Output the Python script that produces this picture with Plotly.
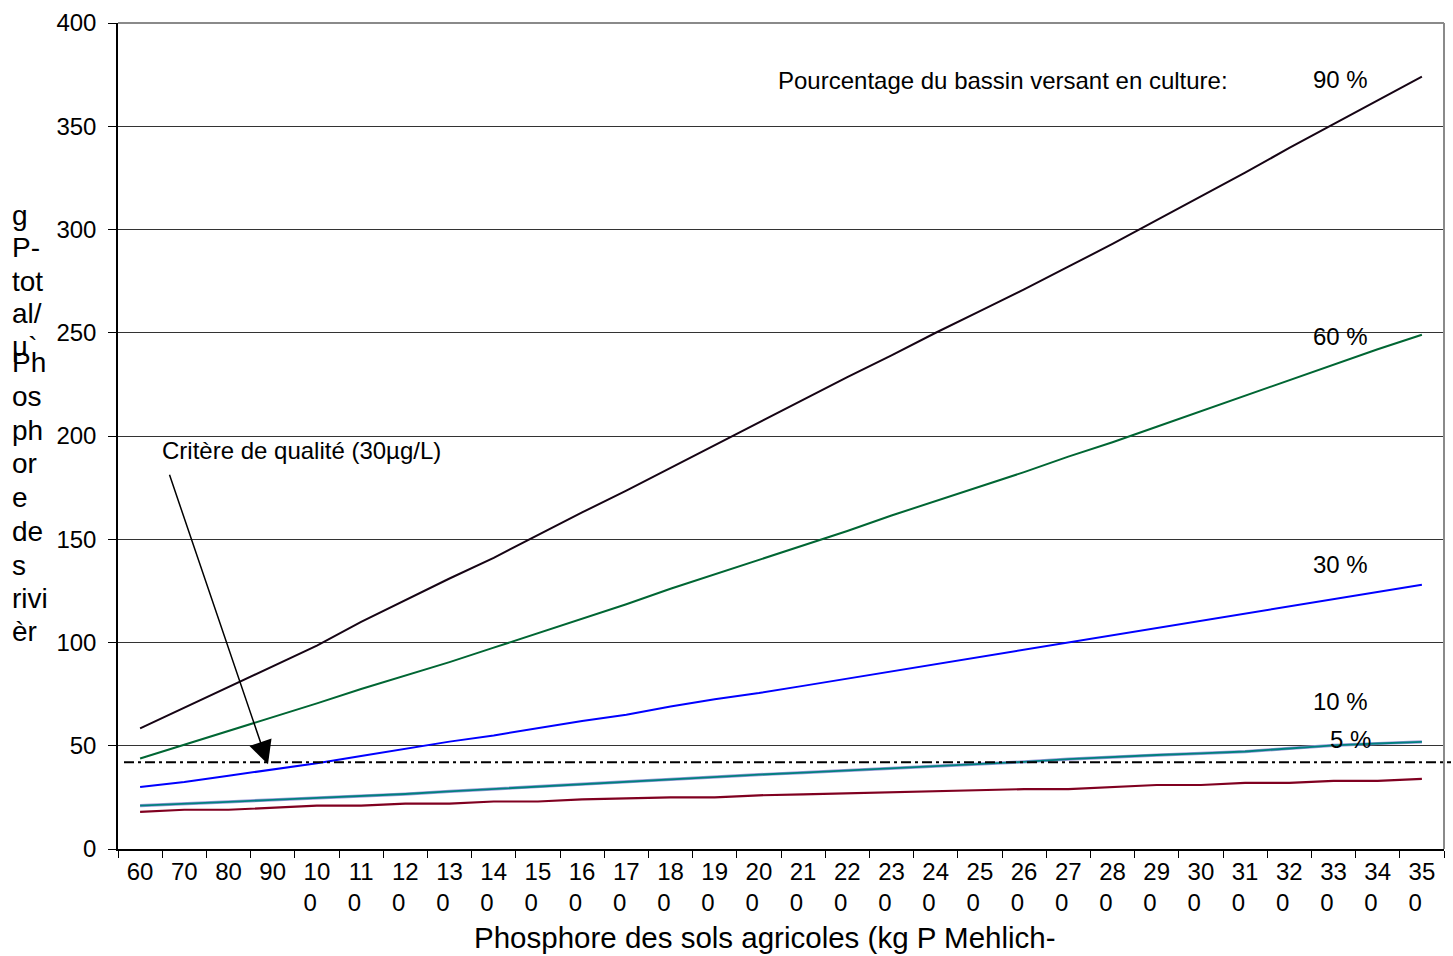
import plotly.graph_objects as go

# Phosphore des sols agricoles (catégories de l'axe X)
phosphore_sol = ["60", "70", "80", "90", "100", "110", "120", "130", "140", "150",
                 "160", "170", "180", "190", "200", "210", "220", "230", "240", "250",
                 "260", "270", "280", "290", "300", "310", "320", "330", "340", "350"]

# Étiquettes telles qu'affichées (coupées sur deux lignes faute de place)
FS = "\u2007"
etiquettes_x = ["60", "70", "80", "90",
                "10<br>0" + FS, "11<br>0" + FS, "12<br>0" + FS, "13<br>0" + FS,
                "14<br>0" + FS, "15<br>0" + FS, "16<br>0" + FS, "17<br>0" + FS,
                "18<br>0" + FS, "19<br>0" + FS, "20<br>0" + FS, "21<br>0" + FS,
                "22<br>0" + FS, "23<br>0" + FS, "24<br>0" + FS, "25<br>0" + FS,
                "26<br>0" + FS, "27<br>0" + FS, "28<br>0" + FS, "29<br>0" + FS,
                "30<br>0" + FS, "31<br>0" + FS, "32<br>0" + FS, "33<br>0" + FS,
                "34<br>0" + FS, "35<br>0" + FS]

# Phosphore total des rivières selon le pourcentage du bassin en culture
pct90 = [58.4, 68.5, 78.5, 88.5, 98.5, 110, 120.5, 131, 141, 152,
         163, 173.5, 184.5, 195.5, 206.5, 217.5, 228.5, 239, 250, 260.5,
         271, 282, 293, 304.5, 316, 327.5, 339.5, 351, 362.5, 374]
pct60 = [43.8, 50.5, 57, 64, 70.5, 77.5, 84, 90.5, 97.5, 104.5,
         111.5, 118.5, 126, 133, 140, 147, 154, 161.5, 168.5, 175.5,
         182.5, 190, 197, 204.5, 212, 219.5, 227, 234.5, 242, 249]
pct30 = [30, 32.5, 35.5, 38.5, 41.5, 45, 48.5, 52, 55, 58.5,
         62, 65, 69, 72.5, 75.5, 79, 82.5, 86, 89.5, 93,
         96.5, 100, 103.5, 107, 110.5, 114, 117.5, 121, 124.5, 128]
pct10 = [21, 21.8, 22.8, 23.8, 24.7, 25.4, 26.6, 27.9, 29.1, 30.2,
         31.4, 32.5, 33.7, 34.8, 36, 37, 38, 39, 40, 41,
         42.2, 43.5, 44.6, 45.5, 46.3, 47.2, 48.7, 50.2, 51.1, 51.9]
pct5 = [21, 21.8, 22.8, 23.8, 24.7, 25.4, 26.6, 27.9, 29.1, 30.2,
        31.4, 32.5, 33.7, 34.8, 36, 37, 38, 39, 40, 41,
        42.2, 43.5, 44.6, 45.5, 46.3, 47.2, 48.7, 50.2, 51.1, 51.9]
serie_basse = [18, 19, 19, 20, 21, 21, 22, 22, 23, 23,
               24, 24.5, 25, 25, 26, 26.5, 27, 27.5, 28, 28.5,
               29, 29, 30, 31, 31, 32, 32, 33, 33, 34]

# Niveau tracé pour le critère de qualité
niveau_critere = 42

y_ticks = [0, 50, 100, 150, 200, 250, 300, 350, 400]

FONT = "Liberation Sans, Arial, Helvetica, sans-serif"
W, H = 1453, 956
L, R, T, B = 118, 9, 20, 107
PW, PH = W - L - R, H - T - B


def fx(px):
    return (px - L) / PW


def fy(py):
    return (H - B - py) / PH


fig = go.Figure()

traces = [
    (serie_basse, "#800020", 2.2, "série basse"),
    (pct5, "#9a9ad8", 3.2, "5 %"),
    (pct10, "#008080", 1.9, "10 %"),
    (pct30, "#0000ff", 2.0, "30 %"),
    (pct60, "#006633", 2.0, "60 %"),
    (pct90, "#160414", 2.0, "90 %"),
]
for vals, col, w, nom in traces:
    fig.add_trace(go.Scatter(x=phosphore_sol, y=vals, mode="lines", name=nom,
                             line=dict(color=col, width=w), showlegend=False))

annotations = []

# Titre de l'axe Y, coupé mot par mot
y_title_lines = [("g", 213), ("P-", 245), ("tot", 279), ("al/", 312), ("µ`", 345),
                 ("Ph", 361), ("os", 395), ("ph", 429), ("or", 462), ("e", 496),
                 ("de", 530), ("s", 564), ("rivi", 598), ("èr", 631)]
for txt, ypix in y_title_lines:
    annotations.append(dict(text=txt, xref="paper", yref="paper", x=fx(10), y=fy(ypix),
                            xanchor="left", yanchor="middle", showarrow=False,
                            font=dict(family=FONT, size=28, color="black")))

# Titre de l'axe X
annotations.append(dict(text="Phosphore des sols agricoles (kg P Mehlich-",
                        xref="paper", yref="paper", x=fx(765), y=fy(938),
                        xanchor="center", yanchor="middle", showarrow=False,
                        font=dict(family=FONT, size=29.5, color="black")))

# Étiquettes des courbes
labels = [("Pourcentage du bassin versant en culture:", 776, 78),
          ("90 %", 1311, 77), ("60 %", 1311, 335), ("30 %", 1311, 563),
          ("10 %", 1311, 701), ("5 %", 1328, 739),
          ("Critère de qualité (30µg/L)", 160, 449)]
for txt, xpix, ypix in labels:
    annotations.append(dict(text=txt, xref="paper", yref="paper", x=fx(xpix), y=fy(ypix),
                            xanchor="left", yanchor="middle", showarrow=False,
                            font=dict(family=FONT, size=24, color="black")))

# Flèche vers le critère de qualité
annotations.append(dict(text="", xref="paper", yref="paper", x=fx(268), y=fy(764),
                        ax=169 - 268, ay=473 - 764, showarrow=True,
                        arrowhead=2, arrowsize=3.1, arrowwidth=1.5, arrowcolor="black",
                        standoff=0))

shapes = [
    # ligne du critère de qualité (tiret-point)
    dict(type="line", xref="paper", yref="y", x0=fx(124), x1=fx(1451),
         y0=niveau_critere, y1=niveau_critere,
         line=dict(color="black", width=2, dash="10px,4px,3px,4px"), layer="above"),
    # cadre gris haut et droite
    dict(type="line", xref="paper", yref="paper", x0=0, x1=1, y0=1, y1=1,
         line=dict(color="#8a8a8a", width=2)),
    dict(type="line", xref="paper", yref="paper", x0=1, x1=1, y0=0, y1=1,
         line=dict(color="#8a8a8a", width=2)),
]

fig.update_layout(
    width=W, height=H,
    margin=dict(l=L, r=R, t=T, b=B, pad=0),
    paper_bgcolor="white", plot_bgcolor="white",
    font=dict(family=FONT, size=24, color="black"),
    annotations=annotations, shapes=shapes,
    xaxis=dict(type="category", categoryorder="array", categoryarray=phosphore_sol,
               tickmode="array", tickvals=phosphore_sol, ticktext=etiquettes_x,
               tickson="boundaries", ticks="outside", ticklen=7, tickwidth=1,
               tickcolor="black", showline=True, linecolor="black", linewidth=1.5,
               showgrid=False, zeroline=False, range=[-0.5, 29.5],
               tickfont=dict(family=FONT, size=24, color="black")),
    yaxis=dict(range=[0, 400], tickmode="array", tickvals=y_ticks,
               ticks="outside", ticklen=8, tickwidth=1, tickcolor="black",
               showline=True, linecolor="black", linewidth=1.5,
               showgrid=True, gridcolor="#333333", gridwidth=1, zeroline=False,
               ticklabelstandoff=7,
               tickfont=dict(family=FONT, size=24, color="black")),
)

fig.write_html("out.html")
